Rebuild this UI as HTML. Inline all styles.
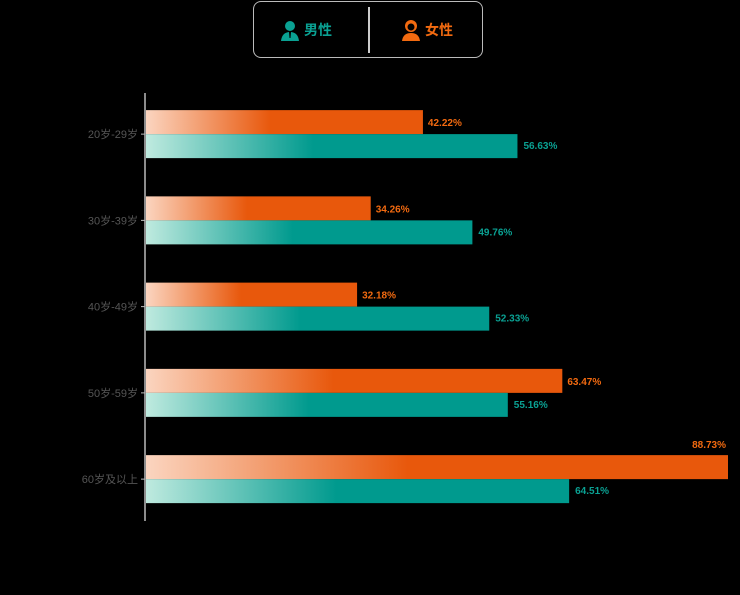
<!DOCTYPE html>
<html><head><meta charset="utf-8"><style>
body{margin:0;background:#000;width:740px;height:595px;overflow:hidden;font-family:"Liberation Sans","Noto Sans CJK SC",sans-serif}
.legend{position:absolute;left:253px;top:1px;width:230px;height:57px;border:1.5px solid #bbb;border-radius:8px;box-sizing:border-box}
.legend .div{position:absolute;left:114px;top:5px;width:2px;height:46px;background:#ccc}
.item{position:absolute;top:17px;font-size:14px;font-weight:bold;display:flex;align-items:center;gap:4px}
</style></head><body>
<div class="legend">
 <div class="item" style="left:26px;color:#0aa193">
  <svg width="20" height="22" viewBox="0 0 20 22"><circle cx="10" cy="7" r="5" fill="#0aa193"/><path d="M1 22 Q2 13 10 13 Q18 13 19 22Z" fill="#0aa193"/><path d="M9 13 L11 13 L10.5 19 L9.5 19Z" fill="#000"/></svg>男性</div>
 <div class="div"></div>
 <div class="item" style="left:147px;color:#f26a10">
  <svg width="20" height="22" viewBox="0 0 20 22"><circle cx="10" cy="7" r="6" fill="#f26a10"/><circle cx="10" cy="8" r="3.5" fill="#000"/><path d="M1 22 Q2 14 10 14 Q18 14 19 22Z" fill="#f26a10"/></svg>女性</div>
</div>
<svg id="chart" width="740" height="595" style="position:absolute;left:0;top:0">
<defs>
<linearGradient id="gf" x1="0" x2="1" y1="0" y2="0"><stop offset="0" stop-color="#fbd5c0"/><stop offset="0.45" stop-color="#e8580c"/><stop offset="1" stop-color="#e8580c"/></linearGradient>
<linearGradient id="gm" x1="0" x2="1" y1="0" y2="0"><stop offset="0" stop-color="#bfeadf"/><stop offset="0.45" stop-color="#009a8e"/><stop offset="1" stop-color="#009a8e"/></linearGradient>
</defs>
</svg>
<script>
const categories=["20岁-29岁","30岁-39岁","40岁-49岁","50岁-59岁","60岁及以上"];
const female=[42.22,34.26,32.18,63.47,88.73];
const male=[56.63,49.76,52.33,55.16,64.51];
const svg=document.getElementById('chart');
const NS='http://www.w3.org/2000/svg';
const x0=146, pxPer=582/88.73, top0=91, band=86.25;
const xs=v=>x0+v*pxPer;
const yc=i=>top0+band*(i+0.5);
function mk(t,a){const e=document.createElementNS(NS,t);for(const k in a)e.setAttribute(k,a[k]);svg.appendChild(e);return e;}
const ax=mk('line',{x1:145,x2:145,y1:93,y2:521,stroke:'#bbb','stroke-width':1.5});


categories.forEach((c,i)=>{
 const y=yc(i);
 const tk=mk('line',{x1:141,x2:145,y1:y,y2:y,stroke:'#bbb'});
 
 
 const t=mk('text',{x:138,y:y+4,'text-anchor':'end','font-size':11,fill:'#555'});t.textContent=c;
 
 
 const bf=mk('rect',{x:x0,y:y-24,width:xs(female[i])-x0,height:24,fill:'url(#gf)'});
 
 
 const bm=mk('rect',{x:x0,y:y,width:xs(male[i])-x0,height:24,fill:'url(#gm)'});
 
 
 const fx=xs(female[i]);
 let lf;
 if(fx+50>740){lf=mk('text',{x:fx-2,y:y-31,'text-anchor':'end','font-size':10,'font-weight':'bold',fill:'#f26a10'});}
 else{lf=mk('text',{x:fx+5,y:y-8,'font-size':10,'font-weight':'bold',fill:'#f26a10'});}
 lf.textContent=female[i].toFixed(2)+'%';
 
 
 const lm=mk('text',{x:xs(male[i])+6,y:y+15,'font-size':10,'font-weight':'bold',fill:'#0aa193'});
 lm.textContent=male[i].toFixed(2)+'%';
 
 
});
</script>
</body></html>
